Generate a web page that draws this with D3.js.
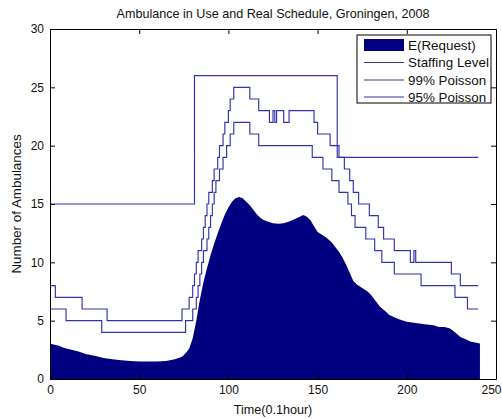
<!DOCTYPE html>
<html><head><meta charset="utf-8">
<script src="https://cdn.jsdelivr.net/npm/d3@7"></script>
<style>
body{margin:0;background:#fff}
svg{display:block}
text{font-family:"Liberation Sans",Arial,Helvetica,sans-serif;fill:#111}
</style>
</head><body>
<svg id="chart" width="502" height="419"></svg>
<script>
// ---- data (time in 0.1 hour, values = number of ambulances) ----
const chartTitle = "Ambulance in Use and Real Schedule, Groningen, 2008";
const xLabel = "Time(0.1hour)";
const yLabel = "Number of Ambulances";
const xTicks = [0, 50, 100, 150, 200, 250];
const yTicks = [0, 5, 10, 15, 20, 25, 30];
const seriesNames = ["E(Request)", "Staffing Level", "99% Poisson", "95% Poisson"];

const requestT = [0,2,5,8,12,16,20,25,30,35,40,45,50,55,60,65,70,74,76,78,80,82,84,86,88,90,92,94,96,98,100,102,104,106,108,110,112,114,116,118,120,122,125,128,131,134,137,140,142,144,146,148,150,152,155,158,160,162,164,166,168,170,172,175,178,180,182,185,188,190,193,196,200,205,210,215,218,221,224,227,230,233,236,239,241];
const requestV = [3.05,2.95,2.85,2.65,2.5,2.35,2.15,2.0,1.8,1.7,1.6,1.55,1.5,1.5,1.5,1.55,1.7,1.9,2.2,2.6,3.5,5.0,6.8,8.3,9.5,10.6,11.6,12.5,13.3,14.1,14.7,15.2,15.5,15.6,15.5,15.2,14.9,14.5,14.1,13.8,13.6,13.5,13.35,13.3,13.35,13.5,13.7,13.9,14.05,13.9,13.6,13.1,12.6,12.4,12.1,11.7,11.3,10.9,10.4,9.8,9.1,8.4,8.1,7.8,7.5,7.2,6.8,6.2,5.8,5.5,5.3,5.1,4.9,4.8,4.7,4.6,4.45,4.45,4.35,4.0,3.6,3.4,3.2,3.1,3.05];

const staffingT = [0, 81, 161, 240];
const staffingV = [15, 26, 19, 19];

const p99T = [0,3,18,32,74,78,80,81,82,83,85,86,87,88,89,91,92,94,95,97,98,100,101,103,112,117,123,125,126,127,131,134,148,150,157,162,165,168,170,173,179,184,187,193,202,204,205,225,230,240];
const p99V = [8,7,6,5,6,7,8,9,10,11,12,13,14,15,16,17,18,19,20,21,22,23,24,25,24,23,22,23,22,23,22,23,22,21,20,19,18,17,16,15,14,13,12,11,10,11,10,9,8,8];

const p95T = [0,9,29,76,80,82,83,84,85,86,88,89,90,91,92,93,95,97,99,101,103,112,117,147,153,158,162,167,169,171,177,182,186,193,208,227,234,240];
const p95V = [6,5,4,5,6,7,8,9,10,11,12,13,14,15,16,17,18,19,20,21,22,21,20,19,18,17,16,15,14,13,12,11,10,9,8,7,6,6];

// ---- layout ----
const W = 502, H = 419;
const m = {left: 50, right: 6, top: 29, bottom: 40};
const areaColor = "#000080";
const lineColor = "#3333ae";

const svg = d3.select("#chart");
const x = d3.scaleLinear().domain([0, 250]).range([m.left, W - m.right]);
const y = d3.scaleLinear().domain([0, 30]).range([H - m.bottom, m.top]);

const zip = (ts, vs) => ts.map((t, i) => ({t, v: vs[i]}));

// area
svg.append("path")
  .datum(zip(requestT, requestV))
  .attr("fill", areaColor)
  .attr("d", d3.area().x(d => x(d.t)).y0(y(0)).y1(d => y(d.v)));

// step lines
const stepLine = d3.line().x(d => x(d.t)).y(d => y(d.v)).curve(d3.curveStepAfter);
[[staffingT, staffingV], [p99T, p99V], [p95T, p95V]].forEach(([ts, vs]) => {
  svg.append("path")
    .datum(zip(ts, vs))
    .attr("fill", "none")
    .attr("stroke", lineColor)
    .attr("stroke-width", 1.15)
    .attr("d", stepLine);
});

// axes
const tickLen = 5;
const axB = d3.axisBottom(x).tickValues(xTicks).tickSizeInner(-tickLen).tickSizeOuter(0).tickPadding(6);
const axT = d3.axisTop(x).tickValues(xTicks).tickSizeInner(-tickLen).tickSizeOuter(0).tickFormat("");
const axL = d3.axisLeft(y).tickValues(yTicks).tickSizeInner(-tickLen).tickSizeOuter(0).tickPadding(6);
const axR = d3.axisRight(y).tickValues(yTicks).tickSizeInner(-tickLen).tickSizeOuter(0).tickFormat("");

function styleAxis(g) {
  g.selectAll("path.domain").attr("stroke", "#000").attr("stroke-width", 1);
  g.selectAll("line").attr("stroke", "#000").attr("stroke-width", 1);
  g.selectAll("text").attr("font-size", 12).attr("fill", "#111")
    .style("font-family", '"Liberation Sans",Arial,sans-serif');
}
const gB = svg.append("g").attr("transform", `translate(0,${y(0)})`).call(axB).call(styleAxis);
// keep the last tick label ("250") inside the picture, as close to its tick as possible
gB.selectAll(".tick").filter(d => d === 250).select("text")
  .attr("text-anchor", "end").attr("x", W - 1 - x(250));
svg.append("g").attr("transform", `translate(0,${y(30)})`).call(axT).call(styleAxis);
svg.append("g").attr("transform", `translate(${x(0)},0)`).call(axL).call(styleAxis);
svg.append("g").attr("transform", `translate(${x(250)},0)`).call(axR).call(styleAxis);

// titles
svg.append("text").attr("x", (x(0) + x(250)) / 2).attr("y", 18)
  .attr("text-anchor", "middle").attr("font-size", 12.6).text(chartTitle);
svg.append("text").attr("x", (x(0) + x(250)) / 2).attr("y", 414)
  .attr("text-anchor", "middle").attr("font-size", 12.6).text(xLabel);
svg.append("text")
  .attr("transform", `translate(21,${(y(0) + y(30)) / 2}) rotate(-90)`)
  .attr("text-anchor", "middle").attr("font-size", 13.4).text(yLabel);

// legend
const lg = svg.append("g").attr("transform", "translate(357,35)");
lg.append("rect").attr("width", 134).attr("height", 68)
  .attr("fill", "#fff").attr("stroke", "#000").attr("stroke-width", 1);
const rowY = [10, 27.5, 45, 62];
seriesNames.forEach((name, i) => {
  if (i === 0) {
    lg.append("rect").attr("x", 7).attr("y", rowY[i] - 6).attr("width", 40).attr("height", 12).attr("fill", areaColor);
  } else {
    lg.append("line").attr("x1", 7).attr("x2", 47).attr("y1", rowY[i]).attr("y2", rowY[i])
      .attr("stroke", lineColor).attr("stroke-width", 1.15);
  }
  lg.append("text").attr("x", 51).attr("y", rowY[i] + 4.8).attr("font-size", 13.4).text(name);
});
</script>
</body></html>
